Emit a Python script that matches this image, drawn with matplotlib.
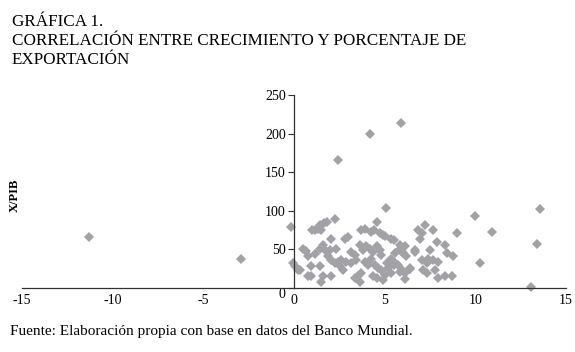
import matplotlib.pyplot as plt

# crecimiento (%) vs exportaciones / PIB (%)
crecimiento = [
    -11.3, -2.93, -0.18, -0.05, 0.04, 0.2, 0.31,
    2.25, 1.84, 1.66, 1.46, 1.33, 1.14, 1.0, 1.51, 2.06, 2.84, 3.0,
    1.6, 1.42, 1.7, 1.97, 2.34, 0.5, 0.68, 1.14, 0.77,
    1.88, 2.06, 2.25, 2.43, 2.6, 2.89, 2.52, 0.96, 1.42,
    0.77, 0.96, 1.6, 1.51, 2.06, 2.71,
    4.6, 4.42, 4.27, 3.9, 3.72, 4.73, 5.0, 5.37,
    3.62, 3.81, 3.99, 4.18, 4.36, 4.55, 4.73, 4.82,
    3.16, 3.35, 3.44, 3.16, 3.9, 4.08, 4.27, 4.45, 4.64, 4.82,
    5.37, 5.56, 5.74, 5.83, 6.02, 6.2, 5.19, 5.37,
    3.72, 3.53, 3.62, 3.35, 4.36, 4.55, 5.0, 4.91, 5.93, 6.11,
    5.49, 5.85, 6.13, 5.58, 5.95, 4.93, 5.12, 5.49, 5.85, 6.13, 6.41,
    7.22, 6.85, 7.04, 7.68, 6.94, 7.87, 8.33, 8.97,
    7.5, 8.42, 8.79, 6.67, 7.04, 7.4, 7.68, 7.96, 7.31,
    6.39, 7.13, 7.31, 7.77, 7.96, 8.33, 8.7, 6.69,
    5.08, 10.0, 13.55, 10.92, 13.41, 10.27, 13.09,
    2.43, 4.2, 5.9,
]
x_pib = [
    66, 37, 79.5, 32, 28, 23, 23.4,
    90, 86, 84, 81.6, 77, 75, 75, 75, 64, 64, 66,
    56, 51, 49, 49, 51, 51, 48, 44, 41,
    41, 36, 32, 34, 36, 34, 28, 28, 28,
    15, 15, 15, 8, 15, 23,
    85, 75, 73, 77, 75, 71, 68, 64,
    56, 49, 54, 51, 47, 54, 49, 43,
    47, 43, 36, 32, 34, 30, 38, 30, 26, 23.4,
    38, 32, 30, 51, 45, 41, 26, 19,
    19, 15, 8, 13, 15, 13, 17, 10.4, 23, 19,
    62, 56, 54, 45, 46, 69, 32, 30, 21, 12, 25,
    81.6, 75, 71, 75, 64, 60, 56, 71,
    49, 45, 41, 49, 36, 38, 36, 34, 32,
    26, 23, 19, 23, 13, 15, 16, 47,
    103, 93, 102, 72, 57, 33, 1,
    166, 199, 214,
]

xticks = [-15, -10, -5, 0, 5, 10, 15]
yticks = [0, 50, 100, 150, 200, 250]

plt.rcParams['font.family'] = ['Liberation Serif', 'DejaVu Serif']

fig = plt.figure(figsize=(5.75, 3.52), dpi=100)
ax = fig.add_axes([22 / 575, 1 - 288 / 352, 544 / 575, 193 / 352])

ax.plot(crecimiento, x_pib, 'D', color='#a2a2a6', markersize=4.8,
        markeredgewidth=0, clip_on=False)

ax.set_xlim(-15, 15)
ax.set_ylim(0, 250)
ax.spines['top'].set_visible(False)
ax.spines['right'].set_visible(False)
ax.spines['left'].set_position(('data', 0))
for s in ('left', 'bottom'):
    ax.spines[s].set_color('#303030')
    ax.spines[s].set_linewidth(0.9)

ax.set_xticks(xticks)
ax.set_xticklabels([str(v) for v in xticks])
ax.tick_params(axis='x', length=0, pad=4, labelsize=10)
ax.set_xticks([-15, 15], minor=True)
ax.tick_params(axis='x', which='minor', direction='in', length=3, color='#303030')
ax.set_yticks(yticks)
ax.set_yticklabels([str(v) for v in yticks])
ax.tick_params(axis='y', direction='out', length=4, pad=2, labelsize=10,
               color='#303030')
ax.get_yticklabels()[0].set_va('top')

fig.text(15 / 575, 1 - 195 / 352, 'X/PIB', rotation=90, ha='center',
         va='center', fontsize=9, fontweight='bold')

fig.text(12 / 575, 1 - 14 / 352,
         'GRÁFICA 1.\nCORRELACIÓN ENTRE CRECIMIENTO Y PORCENTAJE DE\nEXPORTACIÓN',
         ha='left', va='top', fontsize=12.3, linespacing=1.24)
fig.text(10 / 575, 1 - 332 / 352,
         'Fuente: Elaboración propia con base en datos del Banco Mundial.',
         ha='left', va='center', fontsize=11)

fig.savefig('out.png', dpi=100)
